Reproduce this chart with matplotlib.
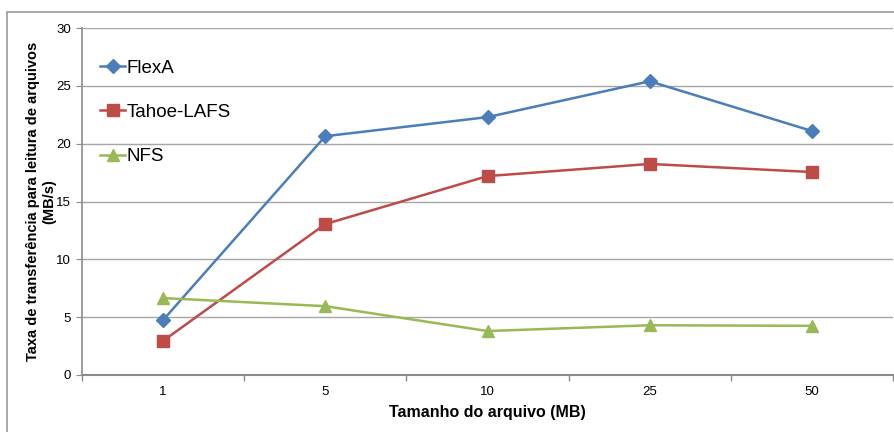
import matplotlib.pyplot as plt
from matplotlib.patches import Rectangle

plt.rcParams['font.family'] = ['Liberation Sans', 'DejaVu Sans']

sizes = ["1", "5", "10", "25", "50"]
flexa = [4.75, 20.65, 22.3, 25.4, 21.1]
tahoe = [2.95, 13.05, 17.2, 18.25, 17.55]
nfs = [6.65, 5.95, 3.8, 4.3, 4.25]

fig = plt.figure(figsize=(8.95, 4.32), dpi=100)
ax = fig.add_axes([0.0916, 0.132, 0.9062, 0.803])

# outer chart border
fig.patches.append(Rectangle((7/895, -0.1), 1.1, 1 - 12/432 + 0.1, transform=fig.transFigure,
                             fill=False, edgecolor="#9a9a9a", linewidth=1.2))

x = range(len(sizes))
ax.plot(x, flexa, color="#4a7ebb", lw=1.8, marker="D", ms=7, label="FlexA")
ax.plot(x, tahoe, color="#be4b48", lw=1.8, marker="s", ms=9, label="Tahoe-LAFS")
ax.plot(x, nfs, color="#98b954", lw=1.8, marker="^", ms=9, label="NFS")

ax.set_xlim(-0.5, len(sizes) - 0.5)
ax.set_ylim(0, 30)
ax.set_yticks(range(0, 31, 5))
ax.set_xticks(list(x))
ax.set_xticklabels(sizes)
ax.set_xticks([i - 0.5 for i in range(len(sizes) + 1)], minor=True)
ax.tick_params(axis="x", which="major", length=0, labelsize=9.5, pad=8)
ax.tick_params(axis="x", which="minor", length=4, color="#8c8c8c", width=1)
ax.tick_params(axis="y", length=4, color="#8c8c8c", labelsize=9.5, pad=4)
ax.grid(axis="y", color="#a6a6a6", lw=1)
ax.set_axisbelow(True)
for s in ["top", "right"]:
    ax.spines[s].set_visible(False)
ax.spines["left"].set_color("#8c8c8c")
ax.spines["bottom"].set_color("#8c8c8c")
ax.spines["left"].set_linewidth(1.2)
ax.spines["bottom"].set_linewidth(1.5)

ax.set_xlabel("Tamanho do arquivo (MB)", fontsize=11.5, fontweight="bold", labelpad=5)
ax.set_ylabel("Taxa de transferência para leitura de arquivos\n(MB/s)", fontsize=10.5,
              fontweight="bold", labelpad=0)

ax.legend(loc="upper left", bbox_to_anchor=(0.006, 0.947), frameon=False, fontsize=13.5,
          labelspacing=1.45, handlelength=1.35, handletextpad=0.05, borderaxespad=0.3)

fig.savefig("out.png", dpi=100)
